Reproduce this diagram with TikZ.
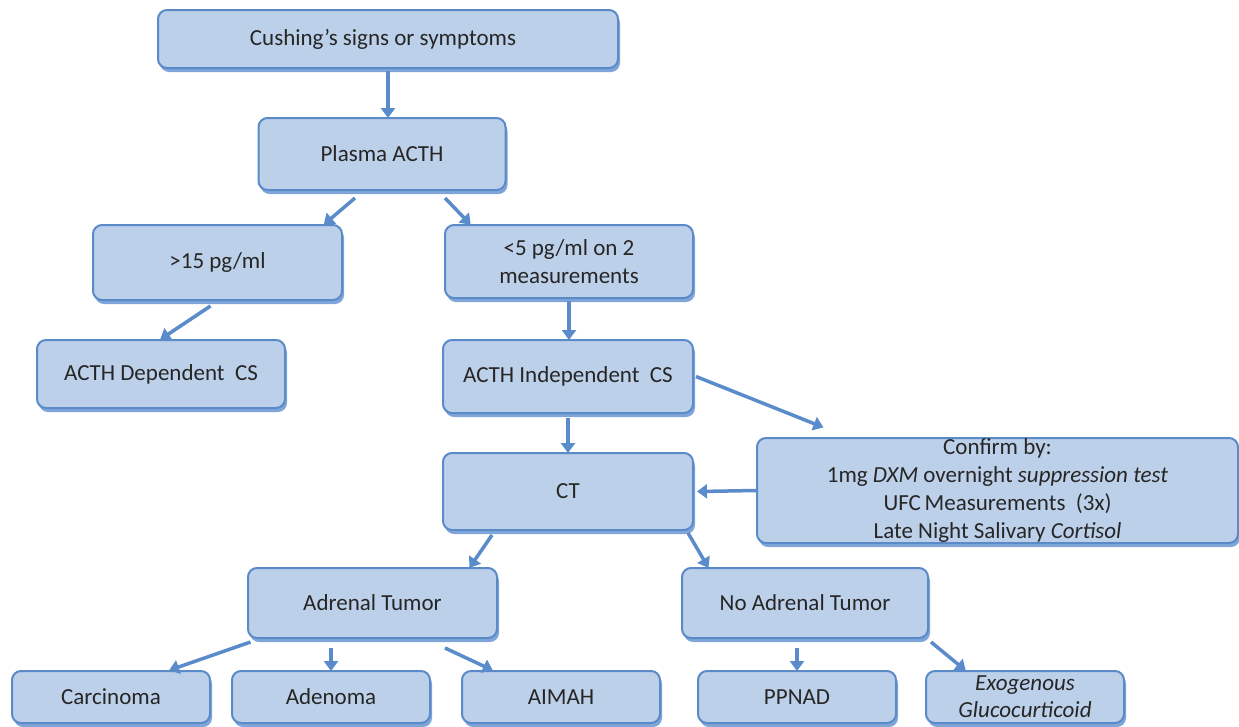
\documentclass[tikz,border=0pt]{standalone}
\usepackage{fontspec}
\setmainfont{Carlito}
\usetikzlibrary{shadows,arrows.meta}
\definecolor{boxfill}{HTML}{BDD0EA}
\definecolor{boxline}{HTML}{5A8AC8}
\definecolor{shadowblue}{HTML}{6A95D2}
\definecolor{arrowblue}{HTML}{5A8BCB}
\definecolor{txt}{HTML}{262626}
\tikzset{
  fbox/.style={draw=boxline, line width=2pt, fill=boxfill, rounded corners=9pt,
    inner sep=0pt, text=txt, align=center,
    font=\fontsize{23}{28}\selectfont,
    drop shadow={shadow xshift=2pt, shadow yshift=-4pt, fill=shadowblue, opacity=0.85}},
  flow/.style={draw=arrowblue, line width=3.5pt, -{Triangle[width=14pt,length=10pt]}, shorten >=-1pt}
}
\begin{document}
\begin{tikzpicture}[x=1pt,y=-1pt]
\useasboundingbox (0,0) rectangle (1239,726);
% nodes
\node[fbox, minimum width=460pt, minimum height=58pt] (cush) at (388,39) {\hspace*{-10pt}Cushing’s signs or symptoms};
\node[fbox, minimum width=247pt, minimum height=72pt] (plasma) at (382,154) {Plasma ACTH};
\node[fbox, minimum width=249pt, minimum height=75pt] (gt15) at (217.5,262.5) {>15 pg/ml};
\node[fbox, minimum width=248pt, minimum height=68pt] (dep) at (161,374) {ACTH Dependent\ \ CS};
\node[fbox, minimum width=248pt, minimum height=73pt] (lt5) at (569,261.5) {<5 pg/ml on 2\\measurements};
\node[fbox, minimum width=250pt, minimum height=73pt] (indep) at (568,376.5) {ACTH Independent\ \ CS};
\node[fbox, minimum width=250pt, minimum height=77pt] (ct) at (568,491.5) {CT};
\node[fbox, minimum width=481pt, minimum height=105pt] (confirm) at (997.5,490.5)
  {Confirm by:\\1mg \textit{DXM} overnight \textit{suppression test}\\UFC\,Measurements\ \ (3x)\\Late Night Salivary \textit{Cortisol}};
\node[fbox, minimum width=249pt, minimum height=70pt] (adr) at (372.5,603) {Adrenal Tumor};
\node[fbox, minimum width=246pt, minimum height=70pt] (noadr) at (805,603) {No Adrenal\ Tumor};
\node[fbox, minimum width=198pt, minimum height=52pt] (carc) at (111,697) {Carcinoma};
\node[fbox, minimum width=198pt, minimum height=52pt] (aden) at (331,697) {Adenoma};
\node[fbox, minimum width=198pt, minimum height=52pt] (aimah) at (561,697) {AIMAH};
\node[fbox, minimum width=198pt, minimum height=52pt] (ppnad) at (797,697) {PPNAD};
\node[fbox, minimum width=198pt, minimum height=52pt, font=\fontsize{23}{27}\selectfont\itshape] (exo) at (1025,697) {Exogenous\\Glucocurticoid};
% connectors
\draw[flow] ([yshift=-2pt]cush.south) -- (cush.south |- plasma.north);
\draw[flow] ([xshift=-27pt,yshift=-7pt]plasma.south) -- ([xshift=107pt]gt15.north);
\draw[flow] ([xshift=63pt,yshift=-7pt]plasma.south) -- ([xshift=-99pt]lt5.north);
\draw[flow] ([xshift=-7pt,yshift=-5pt]gt15.south) -- (dep.north);
\draw[flow] ([yshift=-2pt]lt5.south) -- (lt5.south |- indep.north);
\draw[flow] ([yshift=-4pt]indep.south) -- (ct.north);
\draw[flow] ([xshift=2pt]indep.east) -- ([xshift=-175pt,yshift=10pt]confirm.north);
\draw[flow] (confirm.west) -- ([xshift=4pt]ct.east);
\draw[flow] ([xshift=-76pt,yshift=-4pt]ct.south) -- ([xshift=97.5pt]adr.north);
\draw[flow] ([xshift=120pt,yshift=-2pt]ct.south) -- ([xshift=-97pt]noadr.north);
\draw[flow] ([xshift=-122pt,yshift=-3pt]adr.south) -- ([xshift=59pt]carc.north);
\draw[flow] ([xshift=-41.5pt,yshift=-9pt]adr.south) -- (aden.north);
\draw[flow] ([xshift=72.5pt,yshift=-9pt]adr.south) -- ([xshift=-69pt]aimah.north);
\draw[flow] ([xshift=-8pt,yshift=-9pt]noadr.south) -- (ppnad.north);
\draw[flow] ([xshift=2pt,yshift=-3pt]noadr.south east) -- ([xshift=-60pt]exo.north);
\end{tikzpicture}
\end{document}
